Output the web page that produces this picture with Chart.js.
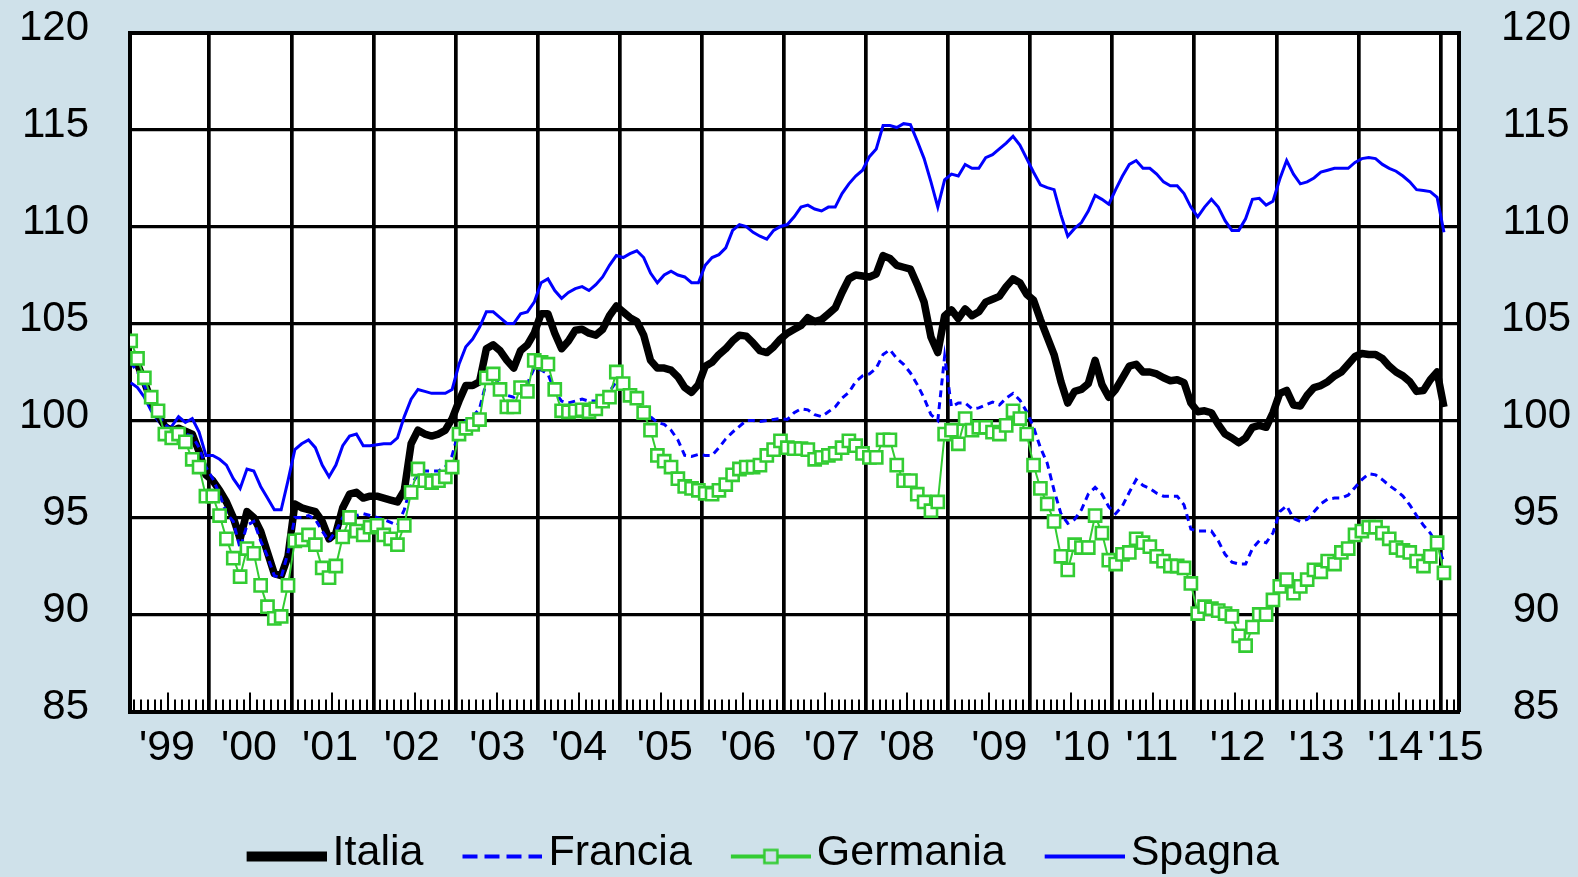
<!DOCTYPE html>
<html>
<head>
<meta charset="utf-8">
<title>Italia, Francia, Germania, Spagna</title>
<script src="https://cdn.jsdelivr.net/npm/chart.js@4.4.0/dist/chart.umd.min.js"></script>
<style>
  html, body { margin: 0; padding: 0; background: #cfe1ea; }
  #chart { display: block; }
</style>
</head>
<body>
<canvas id="chart" width="1578" height="877"></canvas>
<script>
// Data (monthly, Jan 1999 -> Jan 2015)
const seriesNames = ["Italia", "Francia", "Germania", "Spagna"];

const italia = [
  103.2, 102.9, 102.0, 101.0, 100.3, 99.7, 99.45, 99.6, 99.45, 99.3, 98.4, 97.2,
  96.9, 96.4, 95.8, 95.0, 93.9, 95.3, 95.0, 94.3, 93.2, 92.1, 92.0, 93.0,
  95.7, 95.5, 95.4, 95.3, 94.8, 93.9, 94.2, 95.5, 96.2, 96.3, 96.0, 96.1,
  96.1, 96.0, 95.9, 95.8, 96.4, 98.8, 99.5, 99.3, 99.2, 99.3, 99.5, 100.1,
  101.0, 101.8, 101.8, 102.0, 103.7, 103.9, 103.6, 103.1, 102.7, 103.6, 103.9, 104.5,
  105.5, 105.5, 104.5, 103.7, 104.1, 104.65, 104.7, 104.5, 104.4, 104.7, 105.4, 105.9,
  105.6, 105.3, 105.1, 104.4, 103.1, 102.7, 102.7, 102.6, 102.25, 101.7, 101.45, 101.85,
  102.8, 103.0, 103.4, 103.7, 104.1, 104.4, 104.35, 104.0, 103.6, 103.5, 103.8, 104.2,
  104.5, 104.7, 104.9, 105.3, 105.1, 105.2, 105.5, 105.8, 106.6, 107.3, 107.5, 107.45,
  107.4, 107.55, 108.5, 108.35, 108.0, 107.9, 107.8, 107.0, 106.1, 104.3, 103.5, 105.4,
  105.7, 105.25, 105.75, 105.4, 105.6, 106.1, 106.25, 106.4, 106.9, 107.3, 107.1, 106.5,
  106.2, 105.2, 104.3, 103.4, 102.0, 100.9, 101.5, 101.6, 101.9, 103.1, 101.85, 101.2,
  101.6, 102.2, 102.8, 102.9, 102.5, 102.5, 102.4, 102.2, 102.05, 102.1, 101.95, 100.9,
  100.45, 100.5, 100.4, 99.8, 99.3, 99.1, 98.85, 99.1, 99.65, 99.75, 99.65, 100.4,
  101.4, 101.55, 100.8, 100.75, 101.3, 101.7, 101.8, 102.0, 102.3, 102.5, 102.9, 103.3,
  103.45, 103.4, 103.4, 103.2, 102.8, 102.5, 102.3, 102.0, 101.5, 101.55, 102.1, 102.5,
  100.7
];

const francia = [
  103.0, 102.5, 101.8, 101.0, 100.3, 99.8, 99.5, 99.5, 99.3, 99.2, 98.6, 97.6,
  97.0, 96.2, 95.2, 94.8, 93.4, 94.6, 94.8, 93.8, 93.0, 92.0, 91.9, 93.2,
  95.0, 95.0, 95.1, 94.9, 94.3, 93.8, 94.3, 95.0, 95.1, 95.1, 95.2, 95.1,
  95.0, 94.9, 94.75, 94.6, 95.4, 96.7, 97.2, 97.4, 97.4, 97.4, 97.6, 98.2,
  99.5, 100.0, 100.2, 100.6, 102.0, 102.3, 101.8, 101.3, 101.2, 101.8, 101.9, 102.7,
  102.6, 102.4, 101.5, 101.0, 100.9, 101.0, 101.1, 101.0, 101.0, 101.2, 101.5, 102.0,
  101.8, 101.3, 101.05, 100.9, 100.2, 99.9, 99.8, 99.5, 99.0, 98.2, 98.15, 98.25,
  98.2, 98.2, 98.6, 99.05, 99.4, 99.7, 100.0, 100.0, 99.95, 100.0, 100.05, 100.1,
  100.05, 100.4, 100.6, 100.55, 100.3, 100.2, 100.45, 100.7, 101.15, 101.45, 102.0, 102.3,
  102.4, 102.7, 103.4, 103.65, 103.2, 102.9, 102.45, 101.85, 101.15, 100.3, 100.0, 103.3,
  100.7, 100.9, 100.9, 100.6, 100.65, 100.8, 100.95, 100.8, 101.15, 101.4, 101.05, 100.45,
  99.65, 98.6, 97.8, 96.4, 95.2, 94.7, 94.9, 95.4, 96.2, 96.55, 96.2, 95.55,
  95.2, 95.6, 96.3, 96.95, 96.65, 96.5, 96.25, 96.1, 96.1, 96.1, 95.65, 94.4,
  94.3, 94.3, 94.3, 93.8, 93.1, 92.7, 92.6, 92.6, 93.4, 93.8, 93.7, 94.2,
  95.3, 95.6, 94.95, 94.8, 94.9, 95.3, 95.7, 95.95, 96.0, 96.0, 96.15, 96.55,
  96.95, 97.25, 97.2, 96.95, 96.65, 96.4, 96.1, 95.65, 95.1, 94.6, 94.2, 93.6,
  92.7
];

const germania = [
  104.1, 103.2, 102.2, 101.2, 100.5, 99.3, 99.1, 99.3, 98.9, 98.0, 97.6, 96.1,
  96.1, 95.1, 93.9, 92.9, 91.95, 93.4, 93.15, 91.5, 90.4, 89.8, 89.9, 91.5,
  93.8, 93.85, 94.1, 93.6, 92.4, 91.9, 92.5, 94.0, 95.0, 94.3, 94.1, 94.5,
  94.6, 94.1, 93.9, 93.6, 94.6, 96.3, 97.5, 96.9, 96.8, 96.9, 97.1, 97.6,
  99.3, 99.6, 99.8, 100.05, 102.2, 102.4, 101.6, 100.7, 100.7, 101.7, 101.5, 103.1,
  103.0, 102.9, 101.6, 100.5, 100.45, 100.5, 100.55, 100.45, 100.6, 101.0, 101.2, 102.5,
  101.9, 101.3, 101.15, 100.4, 99.5, 98.2, 97.9, 97.6, 97.0, 96.6, 96.5, 96.4,
  96.25, 96.2, 96.4, 96.7, 97.2, 97.5, 97.6, 97.6, 97.7, 98.2, 98.5, 98.95,
  98.6, 98.55, 98.55, 98.5, 98.0, 98.1, 98.2, 98.3, 98.6, 98.95, 98.7, 98.3,
  98.1, 98.1, 99.0, 99.0, 97.7, 96.9, 96.9, 96.2, 95.8, 95.35, 95.8, 99.3,
  99.5, 98.8, 100.1, 99.5, 99.65, 99.65, 99.4, 99.3, 99.75, 100.5, 100.1, 99.3,
  97.7, 96.5, 95.7, 94.8, 93.0, 92.3, 93.6, 93.45, 93.45, 95.1, 94.2, 92.8,
  92.6, 93.1, 93.2, 93.9, 93.7, 93.5, 93.0, 92.75, 92.5, 92.5, 92.4, 91.6,
  90.05, 90.4, 90.3, 90.2, 90.05, 89.9, 88.9, 88.4, 89.35, 90.0, 90.0, 90.75,
  91.45, 91.8, 91.1, 91.45, 91.8, 92.3, 92.2, 92.75, 92.6, 93.2, 93.4, 94.1,
  94.3, 94.5, 94.5, 94.2, 93.9, 93.45, 93.3, 93.2, 92.75, 92.5, 93.0, 93.7,
  92.15
];

const spagna = [
  101.95, 101.7, 101.2, 100.5, 100.0, 99.6, 99.7, 100.2, 99.9, 100.1, 99.4, 98.2,
  98.2, 98.0, 97.7, 97.0, 96.5, 97.5, 97.4, 96.6, 96.0, 95.4, 95.4, 96.9,
  98.5, 98.8, 99.0, 98.6, 97.7, 97.1, 97.7, 98.7, 99.2, 99.3, 98.7, 98.7,
  98.75, 98.8, 98.8, 99.1, 100.2, 101.1, 101.6, 101.5, 101.4, 101.4, 101.4, 101.6,
  102.9, 103.8, 104.2, 104.8, 105.6, 105.6, 105.3, 105.0, 105.0, 105.5, 105.6, 106.1,
  107.1, 107.3, 106.7, 106.3, 106.6, 106.8, 106.9, 106.7, 107.0, 107.4, 108.0, 108.5,
  108.4, 108.6, 108.75, 108.4, 107.6, 107.1, 107.5, 107.7, 107.5, 107.4, 107.1, 107.1,
  108.0, 108.4, 108.55, 108.9, 109.8, 110.1, 110.0, 109.7, 109.5, 109.35, 109.8, 110.0,
  110.1, 110.5, 111.0, 111.1, 110.9, 110.8, 111.0, 111.0, 111.7, 112.2, 112.6, 112.9,
  113.6, 114.0, 115.2, 115.2, 115.1, 115.3, 115.25, 114.4, 113.5, 112.3, 111.0, 112.4,
  112.7, 112.6, 113.2, 113.0, 113.0, 113.55, 113.7, 114.0, 114.3, 114.65, 114.2, 113.5,
  112.8, 112.15, 112.0, 111.9, 110.6, 109.5, 109.9, 110.2, 110.8, 111.6, 111.4, 111.15,
  111.9, 112.6, 113.2, 113.4, 113.0, 113.0, 112.7, 112.3, 112.1, 112.1, 111.7, 111.0,
  110.5, 111.0, 111.4, 111.0, 110.3, 109.8, 109.8, 110.4, 111.4, 111.45, 111.1, 111.3,
  112.45, 113.4, 112.7, 112.2, 112.3, 112.5, 112.8, 112.9, 113.0, 113.0, 113.0, 113.3,
  113.5, 113.55, 113.5, 113.2, 113.0, 112.85, 112.6, 112.3, 111.9, 111.85, 111.8, 111.5,
  109.7
];

// Tick labels on the time axis and the month they sit on
const xLabels = ["'99", "'00", "'01", "'02", "'03", "'04", "'05", "'06", "'07", "'08",
                 "'09", "'10", "'11", "'12", "'13", "'14", "'15"];
const xLabelMonths = [5.8, 17.8, 29.65, 41.6, 54.1, 66.05, 78.6, 90.8, 103.0, 114.0,
                      127.5, 139.6, 149.8, 162.35, 173.9, 185.4, 194.2];
const yTicks = [85, 90, 95, 100, 105, 110, 115, 120];

// month axis: each value sits in the middle of its month
const months = italia.map(function(v, i) { return i + 0.5; });

let yearStarts = [];
let halfYears = [];
let monthMarks = [];
for (let m = 1; m <= 194; m++) {
	if (m % 12 == 0) yearStarts.push(m);
	else if (m % 12 == 6) halfYears.push(m);
	else monthMarks.push(m);
}

const xMin = 0.4;
const xMax = 194.7;
const FONT = "'Liberation Sans', Arial, sans-serif";
const BLUE = "#0000ff";
const GREEN = "#33cc33";

Chart.defaults.font.family = FONT;
Chart.defaults.color = "#000";

// Legend samples
function legendSample(draw) {
	const c = document.createElement("canvas");
	c.width = 91;
	c.height = 30;
	const g = c.getContext("2d");
	draw(g, 18);
	return c;
}
const samples = [
	legendSample(function(g, y) {
		g.strokeStyle = "#000"; g.lineWidth = 10;
		g.beginPath(); g.moveTo(11, y); g.lineTo(91, y); g.stroke();
	}),
	legendSample(function(g, y) {
		g.strokeStyle = BLUE; g.lineWidth = 4; g.setLineDash([15, 7]);
		g.beginPath(); g.moveTo(11, y); g.lineTo(91, y); g.stroke();
	}),
	legendSample(function(g, y) {
		g.strokeStyle = GREEN; g.lineWidth = 4;
		g.beginPath(); g.moveTo(11, y); g.lineTo(44, y); g.moveTo(58, y); g.lineTo(91, y); g.stroke();
		g.lineWidth = 2.5;
		g.strokeRect(44.5, y - 6.5, 13, 13);
	}),
	legendSample(function(g, y) {
		g.strokeStyle = BLUE; g.lineWidth = 4;
		g.beginPath(); g.moveTo(11, y); g.lineTo(91, y); g.stroke();
	})
];

// white plot area
const plotBackground = {
	id: "plotBackground",
	beforeDraw: function(chart) {
		const a = chart.chartArea;
		const ctx = chart.ctx;
		ctx.save();
		ctx.fillStyle = "#fff";
		ctx.fillRect(a.left, a.top, a.right - a.left, a.bottom - a.top);
		ctx.restore();
	}
};

function fixHeight(h) {
	return function(scale) { scale.height = h; scale.paddingLeft = 0; scale.paddingRight = 0; };
}
function fixWidth(w) {
	return function(scale) { scale.width = w; scale.paddingTop = 0; scale.paddingBottom = 0; };
}
function useTicks(values) {
	return function(scale) { scale.ticks = values.map(function(v) { return { value: v }; }); };
}
function markAxis(values, len, weight) {
	return {
		type: "linear", position: "bottom", min: xMin, max: xMax, weight: weight,
		afterBuildTicks: useTicks(values),
		afterFit: fixHeight(0),
		grid: { drawOnChartArea: false, drawTicks: true, tickLength: len, color: "#000", lineWidth: 2 },
		border: { display: false },
		ticks: { display: false }
	};
}

const chart = new Chart(document.getElementById("chart"), {
	type: "line",
	data: {
		labels: months,
		datasets: [
			{
				label: seriesNames[0], data: italia, order: 2,
				borderColor: "#000", borderWidth: 7.5, borderJoinStyle: "round",
				pointRadius: 0, xAxisID: "x", yAxisID: "y"
			},
			{
				label: seriesNames[1], data: francia, order: 1,
				borderColor: BLUE, borderWidth: 3, borderDash: [7, 5],
				pointRadius: 0, xAxisID: "x", yAxisID: "y"
			},
			{
				label: seriesNames[2], data: germania, order: 0,
				borderColor: GREEN, borderWidth: 2,
				pointStyle: "rect", pointRadius: 8.6, pointBorderWidth: 2.6,
				pointBorderColor: GREEN, pointBackgroundColor: "#fff",
				xAxisID: "x", yAxisID: "y"
			},
			{
				label: seriesNames[3], data: spagna, order: 3,
				borderColor: BLUE, borderWidth: 3,
				pointRadius: 0, xAxisID: "x", yAxisID: "y"
			}
		]
	},
	options: {
		responsive: false,
		animation: false,
		devicePixelRatio: 1,
		layout: { padding: { top: 32.5, left: -48, right: 0, bottom: -8 } },
		elements: { line: { tension: 0 } },
		plugins: {
			tooltip: { enabled: false },
			legend: {
				position: "bottom",
				align: "center",
				labels: {
					usePointStyle: true,
					pointStyleWidth: 60,
					padding: 43.5,
					color: "#000",
					font: { size: 43 },
					generateLabels: function(chart) {
						return chart.data.datasets.map(function(ds, i) {
							return {
								text: ds.label, pointStyle: samples[i], datasetIndex: i,
								fillStyle: "rgba(0,0,0,0)", strokeStyle: "rgba(0,0,0,0)",
								lineWidth: 0, hidden: false, fontColor: "#000"
							};
						});
					}
				}
			}
		},
		scales: {
			x: {
				type: "linear", position: "bottom", min: xMin, max: xMax, weight: 0,
				afterBuildTicks: useTicks(xLabelMonths),
				afterFit: fixHeight(77),
				grid: { display: false, drawTicks: false },
				border: { display: true, color: "#000", width: 4 },
				ticks: {
					autoSkip: false, maxRotation: 0, padding: 10.5,
					font: { size: 43 },
					callback: function(value, index) { return xLabels[index]; }
				}
			},
			xg: {
				type: "linear", position: "bottom", min: xMin, max: xMax, weight: -1,
				afterBuildTicks: useTicks(yearStarts),
				afterFit: fixHeight(0),
				grid: { color: "#000", lineWidth: 3.7, drawTicks: false },
				border: { display: false },
				ticks: { display: false }
			},
			xm: markAxis(monthMarks, -12, -3),
			xh: markAxis(halfYears, -19, -2),
			y: {
				position: "left", min: 85, max: 120,
				afterBuildTicks: useTicks(yTicks),
				afterFit: fixWidth(178),
				grid: {
					color: "#000", drawTicks: false,
					lineWidth: function(c) { return c.tick && c.tick.value == 120 ? 4 : 3.3; }
				},
				border: { color: "#000", width: 4 },
				ticks: { padding: 41, labelOffset: -4.5, font: { size: 42 } }
			},
			y2: {
				position: "right", min: 85, max: 120,
				afterBuildTicks: useTicks(yTicks),
				afterFit: fixWidth(119),
				grid: { drawOnChartArea: false, drawTicks: false },
				border: { color: "#000", width: 4 },
				ticks: { padding: 42, crossAlign: "center", labelOffset: -4.5, font: { size: 42 } }
			}
		}
	},
	plugins: [plotBackground]
});
</script>
</body>
</html>
